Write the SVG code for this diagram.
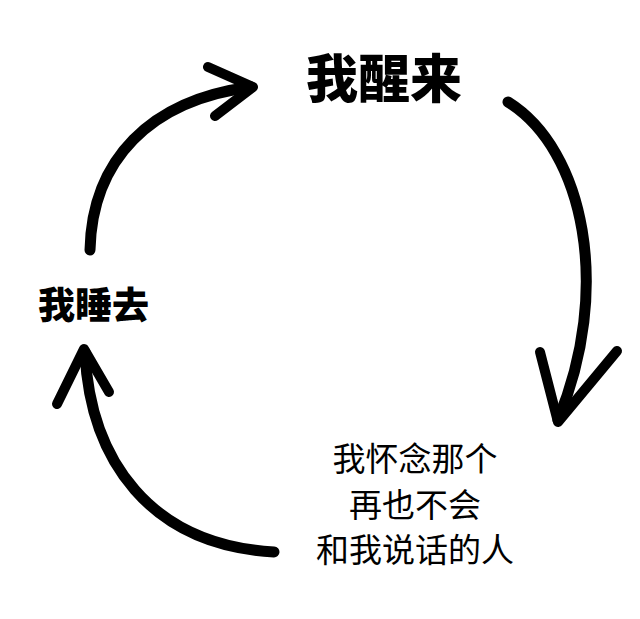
<svg xmlns="http://www.w3.org/2000/svg" width="640" height="619" viewBox="0 0 640 619">
<style>
  .t { font-family: "Noto Sans CJK SC", "Noto Sans", sans-serif; fill: #000; }
  .bold { font-weight: 900; }
  .reg { font-weight: 400; font-size: 33px; }
  .arrow { fill: none; stroke: #000; stroke-linecap: round; stroke-linejoin: round; }
  .shaft { stroke-width: 11; }
  .head { stroke-width: 10; }
</style>
<rect width="640" height="619" fill="#fff"/>
<g id="node-wake">
  <text class="t bold" x="306" y="98" font-size="52">我醒来</text>
</g>
<g id="node-sleep">
  <text class="t bold" x="38" y="319" font-size="37">我睡去</text>
</g>
<g id="node-miss">
  <text class="t reg" x="415" y="471" text-anchor="middle">我怀念那个</text>
  <text class="t reg" x="415" y="517" text-anchor="middle">再也不会</text>
  <text class="t reg" x="415" y="562" text-anchor="middle">和我说话的人</text>
</g>
<g id="connectors">
  <g id="arrow-sleep-wake" class="arrow">
    <path class="shaft" d="M90,250 C92,160 150,100 251,87"/>
    <path class="head" d="M208,67 L253,87 L215,116"/>
  </g>
  <g id="arrow-wake-miss" class="arrow">
    <path class="shaft" d="M508,102 C585,150 612,290 558,420"/>
    <path class="head" d="M540,352 L558,422 L617,351"/>
  </g>
  <g id="arrow-miss-sleep" class="arrow">
    <path class="shaft" d="M274,552 C150,545 90,460 85,352"/>
    <path class="head" d="M57,404 L84,349 L109,392"/>
  </g>
</g>
</svg>
